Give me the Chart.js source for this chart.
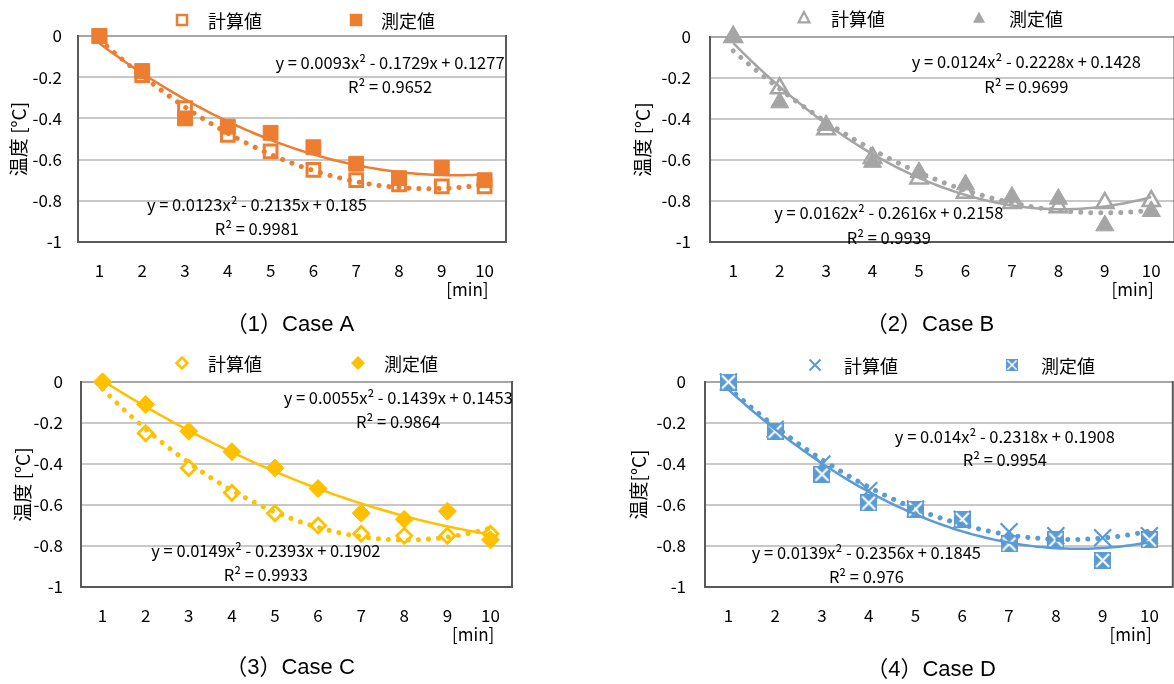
<!DOCTYPE html>
<html>
<head>
<meta charset="utf-8">
<script src="https://cdn.jsdelivr.net/npm/chart.js@4.4.1/dist/chart.umd.min.js"></script>
<style>
  html, body { margin: 0; padding: 0; background: #fff; overflow: hidden; }
  #wrap { position: relative; width: 1174px; height: 684px; overflow: hidden; }
  canvas { position: absolute; }
</style>
</head>
<body>
<div id="wrap">
  <canvas id="chartA" width="587" height="342" style="left:0;top:0"></canvas>
  <canvas id="chartB" width="600" height="342" style="left:587px;top:0"></canvas>
  <canvas id="chartC" width="587" height="342" style="left:0;top:342px"></canvas>
  <canvas id="chartD" width="600" height="342" style="left:587px;top:342px"></canvas>
</div>
<script>
// ---- data ----
const minutes = [1, 2, 3, 4, 5, 6, 7, 8, 9, 10];
const yTicks = [0, -0.2, -0.4, -0.6, -0.8, -1];
const seriesNames = ['計算値', '測定値'];

const caseA_calc = [0, -0.19, -0.35, -0.48, -0.56, -0.65, -0.70, -0.72, -0.73, -0.73];
const caseA_meas = [0, -0.17, -0.40, -0.44, -0.47, -0.54, -0.62, -0.69, -0.64, -0.70];
const caseB_calc = [0, -0.25, -0.45, -0.59, -0.69, -0.76, -0.81, -0.83, -0.81, -0.80];
const caseB_meas = [0, -0.32, -0.43, -0.61, -0.66, -0.72, -0.78, -0.79, -0.92, -0.85];
const caseC_calc = [0, -0.25, -0.42, -0.54, -0.64, -0.70, -0.74, -0.75, -0.75, -0.74];
const caseC_meas = [0, -0.11, -0.24, -0.34, -0.42, -0.52, -0.64, -0.67, -0.63, -0.77];
const caseD_calc = [0, -0.23, -0.40, -0.53, -0.62, -0.67, -0.73, -0.75, -0.76, -0.75];
const caseD_meas = [0, -0.24, -0.45, -0.59, -0.62, -0.67, -0.79, -0.77, -0.87, -0.77];

// trendline coefficients (a, b, c) and R² as printed on the chart
const fitA_calc = [0.0123, -0.2135, 0.185],  r2A_calc = '0.9981';
const fitA_meas = [0.0093, -0.1729, 0.1277], r2A_meas = '0.9652';
const fitB_calc = [0.0162, -0.2616, 0.2158], r2B_calc = '0.9939';
const fitB_meas = [0.0124, -0.2228, 0.1428], r2B_meas = '0.9699';
const fitC_calc = [0.0149, -0.2393, 0.1902], r2C_calc = '0.9933';
const fitC_meas = [0.0055, -0.1439, 0.1453], r2C_meas = '0.9864';
const fitD_calc = [0.014, -0.2318, 0.1908],  r2D_calc = '0.9954';
const fitD_meas = [0.0139, -0.2356, 0.1845], r2D_meas = '0.976';

const captions = ['（1）Case A', '（2）Case B', '（3）Case C', '（4）Case D'];

// ---- helpers ----
const FAM = '"Noto Sans CJK JP", "Noto Sans", sans-serif';
Chart.defaults.font.family = FAM;
Chart.defaults.color = '#000';

function pts(ys) { return minutes.map((m, i) => ({x: m, y: ys[i]})); }
function curve(c) {
  const out = [];
  for (let x = minutes[0]; x <= minutes[minutes.length - 1] + 1e-9; x += 0.1) {
    out.push({x: x, y: c[0] * x * x + c[1] * x + c[2]});
  }
  return out;
}
function eqText(c) {
  return 'y = ' + c[0] + 'x² - ' + (-c[1]) + 'x + ' + c[2];
}

function boxMark(color, n) {
  const cv = document.createElement('canvas');
  cv.width = n; cv.height = n;
  const g = cv.getContext('2d');
  g.fillStyle = color; g.fillRect(0, 0, n, n);
  g.strokeStyle = '#fff'; g.lineWidth = 2;
  g.beginPath();
  g.moveTo(2, 2); g.lineTo(n - 2, n - 2); g.moveTo(n - 2, 2); g.lineTo(2, n - 2);
  g.stroke();
  return cv;
}

function drawMarker(ctx, m, x, y) {
  ctx.save();
  const s = m.size;
  ctx.beginPath();
  if (m.shape === 'image') {
    ctx.drawImage(m.img, x - s / 2, y - s / 2, s, s);
    ctx.restore();
    return;
  }
  if (m.shape === 'rect') ctx.rect(x - s / 2, y - s / 2, s, s);
  if (m.shape === 'triangle') {
    ctx.moveTo(x, y - s * 0.55); ctx.lineTo(x + s / 2, y + s * 0.4); ctx.lineTo(x - s / 2, y + s * 0.4); ctx.closePath();
  }
  if (m.shape === 'diamond') {
    ctx.moveTo(x, y - s / 2); ctx.lineTo(x + s / 2, y); ctx.lineTo(x, y + s / 2); ctx.lineTo(x - s / 2, y); ctx.closePath();
  }
  if (m.shape === 'cross') {
    ctx.moveTo(x - s / 2, y - s / 2); ctx.lineTo(x + s / 2, y + s / 2);
    ctx.moveTo(x + s / 2, y - s / 2); ctx.lineTo(x - s / 2, y + s / 2);
  }
  if (m.fill) { ctx.fillStyle = m.fill; ctx.fill(); }
  if (m.lw) { ctx.strokeStyle = m.stroke; ctx.lineWidth = m.lw; ctx.stroke(); }
  ctx.restore();
}

// legend, equations, unit and caption
const panelText = {
  id: 'panelText',
  afterDraw(chart, args, o) {
    const ctx = chart.ctx, xs = chart.scales.x, ys = chart.scales.y, area = chart.chartArea;
    ctx.save();
    // right border of plot area
    ctx.strokeStyle = '#595959'; ctx.lineWidth = 2;
    ctx.beginPath(); ctx.moveTo(area.right, area.top - 1); ctx.lineTo(area.right, area.bottom + 1); ctx.stroke();

    ctx.fillStyle = '#000';
    ctx.textBaseline = 'middle';
    // legend
    ctx.font = '18px ' + FAM;
    ctx.textAlign = 'left';
    o.legend.forEach(it => {
      drawMarker(ctx, it.mark, it.mx, o.legendY);
      ctx.fillText(it.text, it.tx, o.legendY + 1);
    });
    // equations
    ctx.font = '16.5px ' + FAM;
    ctx.textAlign = 'center';
    o.eqs.forEach(e => {
      const px = xs.getPixelForValue(e.x);
      ctx.fillText(e.lines[0], px, ys.getPixelForValue(e.y[0]));
      ctx.fillText(e.lines[1], px, ys.getPixelForValue(e.y[1]));
    });
    // unit
    ctx.font = '17px ' + FAM;
    ctx.fillText('[min]', xs.getPixelForValue(9.6), area.bottom + 48);
    // caption
    ctx.font = '22px "Liberation Sans", ' + FAM;
    ctx.fillText(o.caption, o.capX, o.capY);
    ctx.restore();
  }
};

function makePanel(id, p) {
  const color = p.color;
  const trendSolid = {
    data: curve(p.solidFit), showLine: true, pointRadius: 0, borderColor: color,
    borderWidth: 2.5, clip: false
  };
  const trendDot = {
    data: curve(p.dotFit), showLine: true, pointRadius: 0, borderColor: color,
    borderWidth: 5, borderDash: [0.01, 10], borderCapStyle: 'round', clip: false
  };
  const meas = Object.assign({data: pts(p.meas), clip: false}, p.measStyle);
  const calc = Object.assign({data: pts(p.calc), clip: false}, p.calcStyle);

  new Chart(document.getElementById(id), {
    type: 'scatter',
    data: {datasets: [trendDot, trendSolid, meas, calc]},
    options: {
      responsive: false,
      animation: false,
      events: [],
      layout: {padding: {top: p.top, right: p.right, left: 0, bottom: 0}},
      plugins: {
        legend: {display: false},
        tooltip: {enabled: false},
        panelText: {
          legendY: p.legendY,
          legend: [
            {text: seriesNames[0], mark: p.calcMark, mx: p.leg[0], tx: p.leg[1]},
            {text: seriesNames[1], mark: p.measMark, mx: p.leg[2], tx: p.leg[3]}
          ],
          eqs: p.eqs,
          caption: p.caption, capX: p.capX, capY: p.capY
        }
      },
      scales: {
        x: {
          type: 'linear', min: 0.5, max: 10.5,
          afterBuildTicks: s => { s.ticks = minutes.map(v => ({value: v})); },
          afterFit: s => { s.height = 342 - p.top - p.plotH; },
          ticks: {font: {size: 17}, padding: 10, color: '#000'},
          grid: {display: false},
          border: {display: true, color: '#595959', width: 2}
        },
        y: {
          min: -1, max: 0,
          afterBuildTicks: s => { s.ticks = yTicks.map(v => ({value: v})); },
          afterFit: s => { s.width = p.left; },
          ticks: {font: {size: 17}, padding: p.yPad, color: '#000', callback: v => String(v)},
          grid: {
            drawTicks: false, lineWidth: 2,
            color: c => c.tick && c.tick.value === -1 ? 'rgba(0,0,0,0)' : (c.tick && c.tick.value === 0 ? '#a6a6a6' : '#c8c8c8')
          },
          border: {display: true, color: '#595959', width: 2},
          title: {display: true, text: p.yTitle, font: {size: 19}, padding: {top: p.yTitlePad, bottom: 0}, color: '#000'}
        }
      }
    },
    plugins: [panelText]
  });
}

const ORANGE = '#ED7D31', GRAY = '#A5A5A5', GOLD = '#FFC000', BLUE = '#5B9BD5';
const blueBox = boxMark(BLUE, 17);

makePanel('chartA', {
  color: ORANGE, calc: caseA_calc, meas: caseA_meas,
  solidFit: fitA_meas, dotFit: fitA_calc,
  calcStyle: {pointStyle: 'rect', pointRadius: 9, pointBorderWidth: 3, pointBorderColor: ORANGE, pointBackgroundColor: '#fff'},
  measStyle: {pointStyle: 'rect', pointRadius: 10.5, pointBorderWidth: 1, pointBorderColor: ORANGE, pointBackgroundColor: ORANGE},
  calcMark: {shape: 'rect', size: 10, lw: 2.5, stroke: ORANGE, fill: '#fff'},
  measMark: {shape: 'rect', size: 12.5, fill: ORANGE},
  left: 78, top: 36, plotH: 206, right: 81, yPad: 16, yTitle: '温度 [°C]', yTitlePad: 7,
  legendY: 20, leg: [182, 208, 356, 381],
  eqs: [
    {lines: [eqText(fitA_meas), 'R² = ' + r2A_meas], x: 7.79, y: [-0.131, -0.248]},
    {lines: [eqText(fitA_calc), 'R² = ' + r2A_calc], x: 4.68, y: [-0.82, -0.937]}
  ],
  caption: captions[0], capX: 290, capY: 325
});

makePanel('chartB', {
  color: GRAY, calc: caseB_calc, meas: caseB_meas,
  solidFit: fitB_calc, dotFit: fitB_meas,
  calcStyle: {pointStyle: 'triangle', pointRadius: 10, pointBorderWidth: 2.5, pointBorderColor: GRAY, pointBackgroundColor: '#fff'},
  measStyle: {pointStyle: 'triangle', pointRadius: 10.5, pointBorderWidth: 1, pointBorderColor: GRAY, pointBackgroundColor: GRAY},
  calcMark: {shape: 'triangle', size: 11, lw: 2.2, stroke: GRAY, fill: '#fff'},
  measMark: {shape: 'triangle', size: 12, fill: GRAY},
  left: 123, top: 37, plotH: 205, right: 8, yPad: 19, yTitle: '温度 [°C]', yTitlePad: 44,
  legendY: 18, leg: [217, 244, 392, 422],
  eqs: [
    {lines: [eqText(fitB_meas), 'R² = ' + r2B_meas], x: 7.31, y: [-0.122, -0.244]},
    {lines: [eqText(fitB_calc), 'R² = ' + r2B_calc], x: 4.35, y: [-0.859, -0.98]}
  ],
  caption: captions[1], capX: 343, capY: 325
});

makePanel('chartC', {
  color: GOLD, calc: caseC_calc, meas: caseC_meas,
  solidFit: fitC_meas, dotFit: fitC_calc,
  calcStyle: {pointStyle: 'rectRot', pointRadius: 7.5, pointBorderWidth: 2.8, pointBorderColor: GOLD, pointBackgroundColor: '#fff'},
  measStyle: {pointStyle: 'rectRot', pointRadius: 9, pointBorderWidth: 1, pointBorderColor: GOLD, pointBackgroundColor: GOLD},
  calcMark: {shape: 'diamond', size: 11, lw: 2.5, stroke: GOLD, fill: '#fff'},
  measMark: {shape: 'diamond', size: 14, fill: GOLD},
  left: 81, top: 40, plotH: 205, right: 75, yPad: 18, yTitlePad: 11, yTitle: '温度 [°C]',
  legendY: 21, leg: [182, 208, 358, 384],
  eqs: [
    {lines: [eqText(fitC_meas), 'R² = ' + r2C_meas], x: 7.86, y: [-0.078, -0.195]},
    {lines: [eqText(fitC_calc), 'R² = ' + r2C_calc], x: 4.79, y: [-0.824, -0.941]}
  ],
  caption: captions[2], capX: 290, capY: 326
});

makePanel('chartD', {
  color: BLUE, calc: caseD_calc, meas: caseD_meas,
  solidFit: fitD_meas, dotFit: fitD_calc,
  calcStyle: {pointStyle: 'crossRot', pointRadius: 12, pointBorderWidth: 2.2, pointBorderColor: BLUE, pointBackgroundColor: BLUE},
  measStyle: {pointStyle: blueBox, pointRadius: 8},
  calcMark: {shape: 'cross', size: 11, lw: 2, stroke: BLUE},
  measMark: {shape: 'image', size: 12, img: blueBox},
  left: 118, top: 40, plotH: 205, right: 6, yPad: 19, yTitle: '温度[°C]', yTitlePad: 40,
  legendY: 23, leg: [228, 257, 425, 454],
  eqs: [
    {lines: [eqText(fitD_calc), 'R² = ' + r2D_calc], x: 6.91, y: [-0.268, -0.38]},
    {lines: [eqText(fitD_meas), 'R² = ' + r2D_meas], x: 3.95, y: [-0.834, -0.951]}
  ],
  caption: captions[3], capX: 344, capY: 328
});
</script>
</body>
</html>
